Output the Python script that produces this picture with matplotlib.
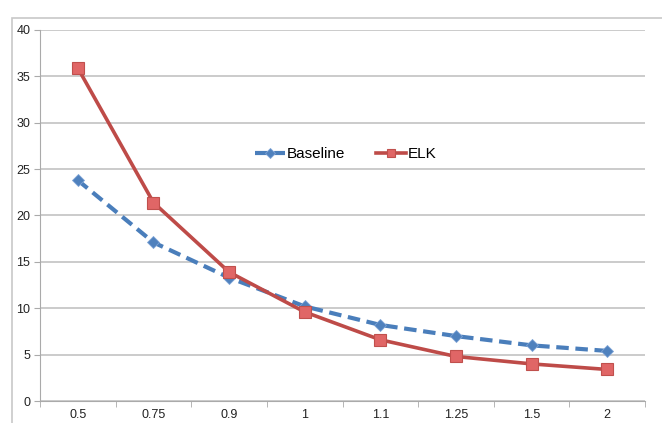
import numpy as np
import matplotlib.pyplot as plt
from matplotlib.patches import Rectangle

plt.rcParams['font.family'] = ['Liberation Sans', 'DejaVu Sans']

categories = ['0.5', '0.75', '0.9', '1', '1.1', '1.25', '1.5', '2']
baseline = [23.8, 17.1, 13.3, 10.2, 8.2, 7.0, 6.0, 5.4]
elk = [35.9, 21.4, 13.9, 9.6, 6.6, 4.8, 4.0, 3.4]
y_ticks = [0, 5, 10, 15, 20, 25, 30, 35, 40]

fig = plt.figure(figsize=(6.62, 4.23), dpi=100)
# outer chart frame
fig.patches.append(Rectangle((12 / 662, -0.1), 1.1, (423 - 18) / 423 + 0.1,
                             transform=fig.transFigure, fill=False,
                             edgecolor='#c8c8c8', linewidth=1.2))
ax = fig.add_axes([40 / 662, 22 / 423, 605 / 662, 371 / 423])

x = np.arange(len(categories))
ax.plot(x, baseline, color='#4a7ebb', linewidth=3, linestyle=(0, (3, 1.6)),
        marker='D', markersize=6, markerfacecolor='#4f81bd',
        markeredgecolor='#7da3d6', markeredgewidth=0.6, label='Baseline', zorder=3)
ax.plot(x, elk, color='#be4b48', linewidth=2.6,
        marker='s', markersize=8, markerfacecolor='#e06666',
        markeredgecolor='#c0504d', markeredgewidth=0.8, label='ELK', zorder=4)

ax.set_xlim(-0.5, len(categories) - 0.5)
ax.set_ylim(0, 40)
ax.set_yticks(y_ticks)
ax.set_xticks(x)
ax.set_xticklabels(categories)
ax.set_xticks(np.arange(-0.5, len(categories)), minor=True)
ax.tick_params(axis='x', which='major', length=0, labelsize=9, pad=6, colors='#222222')
ax.tick_params(axis='x', which='minor', length=4, color='#aaaaaa', direction='out')
ax.tick_params(axis='y', length=4, color='#aaaaaa', labelsize=9, pad=3, labelcolor='#222222')

ax.grid(axis='y', color='#bdbdbd', linewidth=1.1)
ax.set_axisbelow(True)
for s in ['top', 'right']:
    ax.spines[s].set_visible(False)
ax.spines['left'].set_color('#aaaaaa')
ax.spines['bottom'].set_color('#aaaaaa')

ax.legend(loc='center', bbox_to_anchor=(0.505, 0.665), ncol=2, frameon=False,
          fontsize=11, handlelength=2.0, handletextpad=0.1, columnspacing=2.0,
          markerscale=0.8)

fig.savefig('out.png', dpi=100)
